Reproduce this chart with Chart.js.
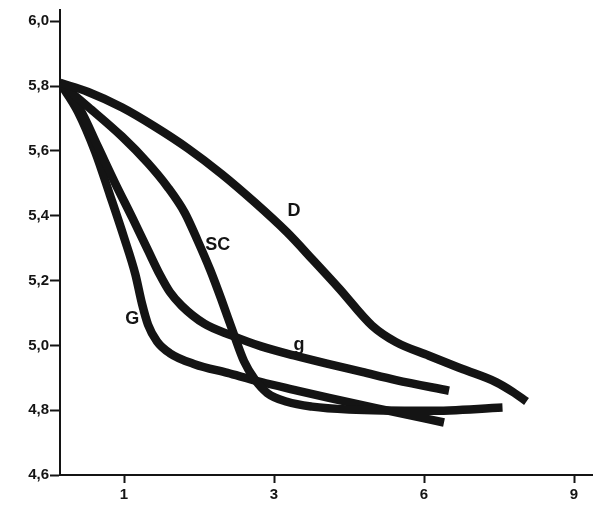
<!DOCTYPE html>
<html>
<head>
<meta charset="utf-8">
<script src="https://cdn.jsdelivr.net/npm/chart.js@4/dist/chart.umd.min.js"></script>
<style>
  html, body { margin: 0; padding: 0; background: #fff; }
  #wrap { width: 600px; height: 510px; }
</style>
</head>
<body>
<div id="wrap"><canvas id="chart" width="600" height="510"></canvas></div>
<script>
// ---- data ----
const xTickLabels = ['1', '3', '6', '9'];
const yTicks = [4.6, 4.8, 5.0, 5.2, 5.4, 5.6, 5.8, 6.0];

const xD  = [0, 0.44, 0.97, 1.41, 1.85, 2.30, 2.74, 3.26, 3.80, 4.30, 4.96, 5.44, 6.10, 6.77, 7.45, 7.77, 8.05];
const yD  = [5.81, 5.782, 5.734, 5.675, 5.608, 5.529, 5.442, 5.349, 5.260, 5.176, 5.061, 5.010, 4.968, 4.927, 4.886, 4.857, 4.827];

const xSC = [0, 0.44, 0.97, 1.32, 1.58, 1.81, 1.98, 2.15, 2.31, 2.46, 2.60, 2.74, 2.91, 3.26, 3.76, 4.50, 6.10, 7.57];
const ySC = [5.81, 5.736, 5.644, 5.562, 5.489, 5.409, 5.324, 5.232, 5.134, 5.037, 4.951, 4.896, 4.853, 4.826, 4.811, 4.802, 4.798, 4.808];

const xg  = [0, 0.31, 0.59, 0.86, 1.11, 1.32, 1.48, 1.61, 1.77, 2.07, 2.43, 2.83, 3.40, 4.10, 4.76, 5.44, 6.50];
const yg  = [5.81, 5.730, 5.614, 5.501, 5.394, 5.293, 5.217, 5.165, 5.122, 5.067, 5.031, 4.997, 4.969, 4.942, 4.918, 4.893, 4.860];

const xG  = [0, 0.28, 0.55, 0.78, 1.00, 1.15, 1.24, 1.32, 1.44, 1.61, 1.94, 2.38, 2.83, 3.40, 4.10, 5.30, 6.40];
const yG  = [5.81, 5.721, 5.597, 5.464, 5.333, 5.220, 5.128, 5.064, 5.012, 4.976, 4.942, 4.915, 4.887, 4.863, 4.838, 4.798, 4.762];

// curve labels (name, x, y)
const curveLabels = [
  ['D', 3.40, 5.415],
  ['SC', 2.25, 5.31],
  ['g', 3.50, 5.00],
  ['G', 1.11, 5.08]
];

// the x axis is not uniform: 1, 3, 6, 9 sit at equal steps
const xAnchorVals  = [0, 1, 3, 6, 9];
const xAnchorSlots = [0.573, 1, 2, 3, 4];

function toSlot(v) {
  for (let i = 0; i < xAnchorVals.length - 1; i++) {
    const a = xAnchorVals[i], b = xAnchorVals[i + 1];
    if (v <= b || i === xAnchorVals.length - 2) {
      const t = (v - a) / (b - a);
      return xAnchorSlots[i] + t * (xAnchorSlots[i + 1] - xAnchorSlots[i]);
    }
  }
}

const pts = (xs, ys) => xs.map((x, i) => ({ x: toSlot(x), y: ys[i] }));

const FONT = "'Liberation Sans', Arial, Helvetica, sans-serif";
const INK = '#141414';

const lineStyle = {
  borderColor: INK,
  borderWidth: 8.5,
  pointRadius: 0,
  fill: false,
  borderCapStyle: 'butt',
  borderJoinStyle: 'round',
  cubicInterpolationMode: 'monotone'
};

const labelPlugin = {
  id: 'curveLabels',
  afterDatasetsDraw(chart) {
    const { ctx, scales } = chart;
    ctx.save();
    ctx.fillStyle = INK;
    ctx.font = 'bold 18px ' + FONT;
    ctx.textAlign = 'center';
    ctx.textBaseline = 'middle';
    curveLabels.forEach(([txt, x, y]) => {
      ctx.fillText(txt, scales.x.getPixelForValue(toSlot(x)), scales.y.getPixelForValue(y));
    });
    ctx.restore();
  }
};

new Chart(document.getElementById('chart'), {
  type: 'line',
  data: {
    datasets: [
      { label: 'D',  data: pts(xD, yD),   ...lineStyle },
      { label: 'SC', data: pts(xSC, ySC), ...lineStyle },
      { label: 'g',  data: pts(xg, yg),   ...lineStyle },
      { label: 'G',  data: pts(xG, yG),   ...lineStyle }
    ]
  },
  options: {
    responsive: false,
    animation: false,
    layout: { padding: { top: 5, right: 8, left: 0, bottom: 0 } },
    plugins: { legend: { display: false }, tooltip: { enabled: false } },
    scales: {
      x: {
        type: 'linear',
        min: xAnchorSlots[0],
        max: 4.12,
        afterBuildTicks(s) { s.ticks = xTickLabels.map((_, i) => ({ value: i + 1 })); },
        afterFit(s) { s.height = 35; },
        ticks: {
          callback: (v) => xTickLabels[Math.round(v) - 1],
          color: INK,
          font: { family: FONT, size: 15, weight: 'bold' },
          padding: 3,
          maxRotation: 0
        },
        grid: { drawOnChartArea: false, drawTicks: true, tickLength: 8, tickWidth: 2, color: INK },
        border: { display: true, color: INK, width: 2 }
      },
      y: {
        min: 4.6,
        max: 6.035,
        afterBuildTicks(s) { s.ticks = yTicks.map(v => ({ value: v })); },
        afterFit(s) { s.width = 60; },
        ticks: {
          callback: (v) => v.toFixed(1).replace('.', ','),
          color: INK,
          font: { family: FONT, size: 15, weight: 'bold' },
          padding: 1
        },
        grid: { drawOnChartArea: false, drawTicks: true, tickLength: 10, tickWidth: 2, color: INK },
        border: { display: true, color: INK, width: 2 }
      }
    }
  },
  plugins: [labelPlugin]
});
</script>
</body>
</html>
